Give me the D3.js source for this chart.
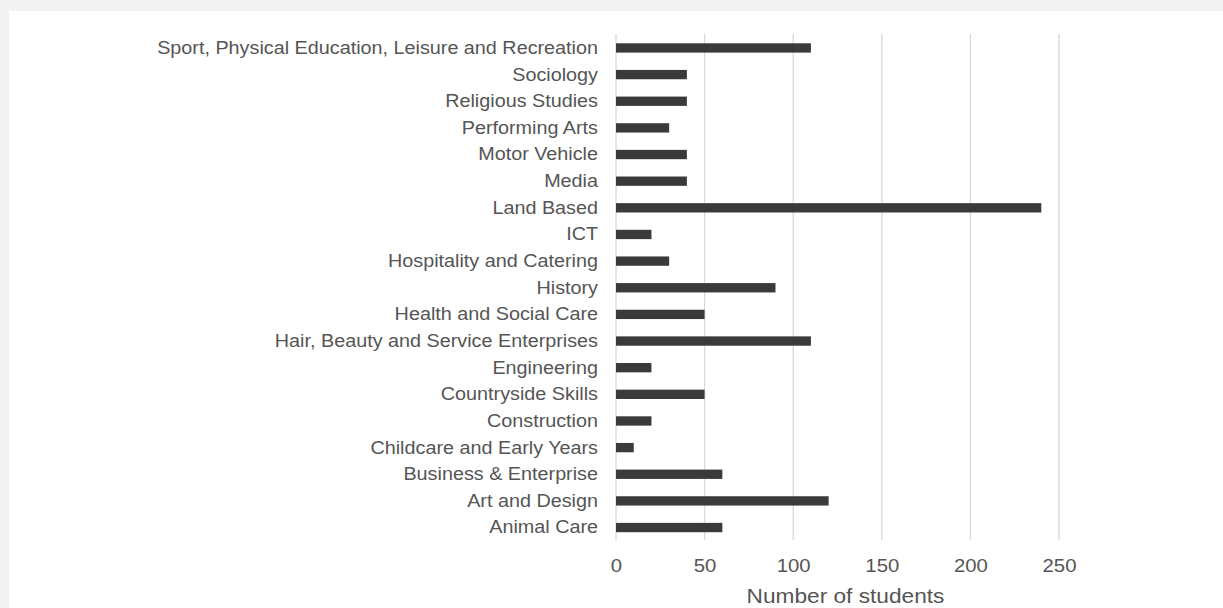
<!DOCTYPE html>
<html>
<head>
<meta charset="utf-8">
<script src="https://cdn.jsdelivr.net/npm/d3@7"></script>
<style>
  html, body { margin: 0; padding: 0; background: #f3f3f3; }
  svg { display: block; }
  text { font-family: "Liberation Sans", Arial, sans-serif; }
</style>
</head>
<body>
<svg id="chart" width="1223" height="608"></svg>
<script>
// Subjects, listed top to bottom
const categories = [
  "Sport, Physical Education, Leisure and Recreation",
  "Sociology",
  "Religious Studies",
  "Performing Arts",
  "Motor Vehicle",
  "Media",
  "Land Based",
  "ICT",
  "Hospitality and Catering",
  "History",
  "Health and Social Care",
  "Hair,  Beauty and Service Enterprises",
  "Engineering",
  "Countryside Skills",
  "Construction",
  "Childcare and Early Years",
  "Business & Enterprise",
  "Art and Design",
  "Animal Care"
];
// Number of students per subject
const students = [110, 40, 40, 30, 40, 40, 240, 20, 30, 90, 50, 110, 20, 50, 20, 10, 60, 120, 60];
const xTicks = [0, 50, 100, 150, 200, 250];
const xTitle = "Number of students";

const svg = d3.select("#chart");

// white card
svg.append("rect")
  .attr("x", 9).attr("y", 11)
  .attr("width", 1223 - 9).attr("height", 608 - 11)
  .attr("fill", "#ffffff");

const plot = { left: 616, right: 1059, top: 34, bottom: 540 };
const textColor = "#555555";
const widen = "scale(1.07,1)";   // slightly wide lettering

const x = d3.scaleLinear().domain([0, 250]).range([plot.left, plot.right]);
const y = d3.scaleBand()
  .domain(categories)
  .range([plot.top + 0.5, plot.bottom + 1])
  .paddingInner(0.65)
  .paddingOuter(0.33);

// vertical gridlines
svg.append("g")
  .selectAll("line")
  .data(xTicks)
  .join("line")
  .attr("x1", d => x(d)).attr("x2", d => x(d))
  .attr("y1", plot.top).attr("y2", plot.bottom)
  .attr("stroke", "#d9d9d9")
  .attr("stroke-width", 1.3);

// bars
svg.append("g")
  .selectAll("rect")
  .data(categories)
  .join("rect")
  .attr("x", x(0))
  .attr("y", d => y(d))
  .attr("width", (d, i) => x(students[i]) - x(0))
  .attr("height", y.bandwidth())
  .attr("fill", "#3a3a3a");

// category axis (labels only)
const yAxis = svg.append("g")
  .attr("transform", `translate(${plot.left - 18},0)`)
  .call(d3.axisLeft(y).tickSize(0).tickPadding(0));
yAxis.select(".domain").remove();
yAxis.selectAll("text")
  .attr("fill", textColor)
  .attr("transform", widen)
  .style("font-size", "18.5px");

// value axis (labels only)
const xAxis = svg.append("g")
  .attr("transform", `translate(0,${plot.bottom})`)
  .call(d3.axisBottom(x).tickValues(xTicks).tickSize(0).tickPadding(18.5));
xAxis.select(".domain").remove();
xAxis.selectAll("text")
  .attr("fill", textColor)
  .attr("transform", widen)
  .style("font-size", "19px");

// axis title
svg.append("text")
  .attr("transform", `translate(${(plot.left + plot.right) / 2 + 8},603) scale(1.08,1)`)
  .attr("text-anchor", "middle")
  .attr("fill", textColor)
  .style("font-size", "21px")
  .text(xTitle);
</script>
</body>
</html>
